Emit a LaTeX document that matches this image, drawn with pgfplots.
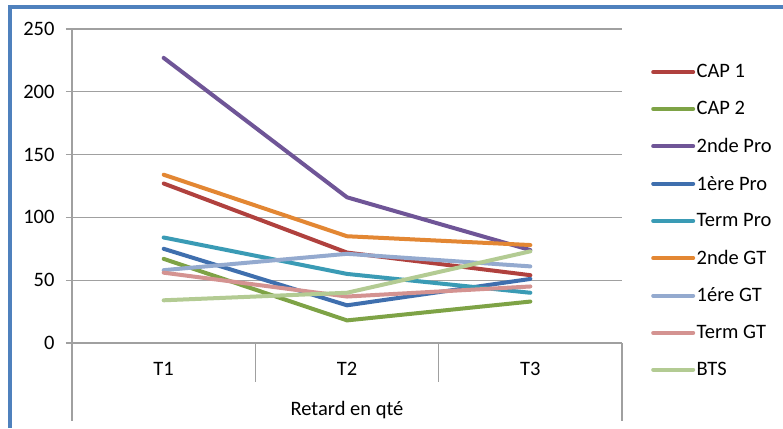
\documentclass[border=0pt]{standalone}
\usepackage{pgfplots}
\pgfplotsset{compat=1.18}
\usepackage{fontspec}
\setmainfont{Carlito}

\definecolor{frameblue}{HTML}{4F81BD}
\definecolor{gridgray}{HTML}{A0A0A0}
\definecolor{cRed}{HTML}{B0413E}
\definecolor{cGreen}{HTML}{7EA346}
\definecolor{cPurple}{HTML}{6F5597}
\definecolor{cBlue}{HTML}{3F6FAE}
\definecolor{cTeal}{HTML}{3A9BB5}
\definecolor{cOrange}{HTML}{E38733}
\definecolor{cLBlue}{HTML}{94AACF}
\definecolor{cPink}{HTML}{D49391}
\definecolor{cLGreen}{HTML}{B3CB93}

\begin{document}
\begin{tikzpicture}[x=1bp,y=1bp]
\useasboundingbox (0,0) rectangle (783,428);
\fill[white] (0,0) rectangle (783,428);
\draw[frameblue, line width=4bp] (10,0) -- (10,421) -- (783,421);
\begin{axis}[
  at={(72bp,85bp)}, anchor=south west,
  scale only axis, width=550bp, height=314bp,
  xmin=0.5, xmax=3.5, ymin=0, ymax=250,
  xtick={1,2,3}, xticklabels={T1,T2,T3},
  ytick={0,50,...,250},
  axis x line*=bottom, axis y line*=left,
  axis line style={gridgray, line width=1.2bp},
  ymajorgrids, grid style={gridgray, line width=1.2bp},
  tick align=outside, major tick length=6bp,
  ytick style={gridgray, line width=1.2bp},
  xtick style={draw=none},
  font=\fontsize{20.5bp}{24bp}\selectfont,
  /pgf/number format/assume math mode=true,
  yticklabel style={anchor=east, xshift=-8bp},
  xticklabel style={anchor=center, yshift=-20bp},
  xlabel={Retard en qté},
  xlabel style={at={(axis description cs:0.5,0)}, anchor=center, yshift=-67bp},
  clip=false,
  every axis plot/.append style={line width=4bp, line join=round, line cap=round},
  legend cell align=left,
  legend image code/.code={\draw[#1, line width=4bp, line cap=round] (0bp,0bp) -- (40bp,0bp);},
  legend style={draw=none, fill=none, at={(rel axis cs:1,1)}, anchor=north west,
    xshift=26bp, yshift=-32bp, row sep=19bp,
    nodes={inner sep=1.5bp}},
]
\addplot[cRed]    coordinates {(1,127) (2,72) (3,54)};
\addlegendentry{CAP 1}
\addplot[cGreen]  coordinates {(1,67) (2,18) (3,33)};
\addlegendentry{CAP 2}
\addplot[cPurple] coordinates {(1,227) (2,116) (3,74)};
\addlegendentry{2nde Pro}
\addplot[cBlue]   coordinates {(1,75) (2,30) (3,51)};
\addlegendentry{1ère Pro}
\addplot[cTeal]   coordinates {(1,84) (2,55) (3,40)};
\addlegendentry{Term Pro}
\addplot[cOrange] coordinates {(1,134) (2,85) (3,78)};
\addlegendentry{2nde GT}
\addplot[cLBlue]  coordinates {(1,58) (2,71) (3,61)};
\addlegendentry{1ére GT}
\addplot[cPink]   coordinates {(1,56) (2,37) (3,45)};
\addlegendentry{Term GT}
\addplot[cLGreen] coordinates {(1,34) (2,40) (3,73)};
\addlegendentry{BTS}
% category separators below the axis
\draw[gridgray, line width=1.2bp] (axis cs:1.5,0) -- ([yshift=-39bp]axis cs:1.5,0);
\draw[gridgray, line width=1.2bp] (axis cs:2.5,0) -- ([yshift=-39bp]axis cs:2.5,0);
\draw[gridgray, line width=1.2bp] (axis cs:0.5,0) -- ([yshift=-78bp]axis cs:0.5,0);
\draw[gridgray, line width=1.2bp] (axis cs:3.5,0) -- ([yshift=-78bp]axis cs:3.5,0);
\end{axis}
\end{tikzpicture}
\end{document}
